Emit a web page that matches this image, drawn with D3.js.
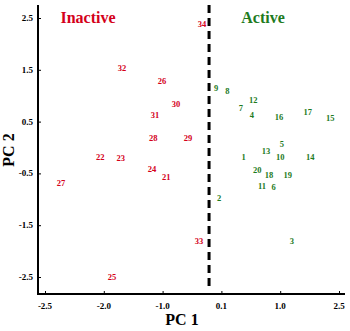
<!DOCTYPE html>
<html><head><meta charset="utf-8">
<script src="https://cdn.jsdelivr.net/npm/d3@7"></script>
<style>body{margin:0;background:#fff}svg{display:block}</style>
</head><body>
<script>
// Data
const inactiveLabels = ["21","22","23","24","25","26","27","28","29","30","31","32","33","34"];
const inactiveX = [-0.44,-1.56,-1.21,-0.68,-1.36,-0.51,-2.23,-0.66,-0.07,-0.27,-0.63,-1.19,0.12,0.17];
const inactiveY = [-0.57,-0.18,-0.20,-0.42,-2.50,1.28,-0.69,0.18,0.18,0.84,0.63,1.53,-1.81,2.38];
const activeLabels = ["1","2","3","4","5","6","7","8","9","10","11","12","13","14","15","16","17","18","19","20"];
const activeX = [0.88,0.46,1.70,1.02,1.53,1.39,0.83,0.60,0.41,1.50,1.19,1.04,1.26,2.01,2.35,1.48,1.97,1.31,1.63,1.11];
const activeY = [-0.18,-0.97,-1.81,0.63,0.07,-0.76,0.76,1.09,1.15,-0.18,-0.74,0.92,-0.07,-0.18,0.57,0.59,0.69,-0.53,-0.53,-0.43];
const xTickValues = [-2.5,-1.5,-0.5,0.5,1.5,2.5];
const xTickLabels = ["-2.5","-2.0","-1.0","0.1","1.0","2.5"];
const yTickValues = [2.5,1.5,0.5,-0.5,-1.5,-2.5];
const yTickLabels = ["2.5","1.5","0.5","-0.5","-1.5","-2.5"];
const dividerX = 0.29;

const W = 350, H = 331;
const svg = d3.select("body").append("svg").attr("width", W).attr("height", H);
const font = "'Liberation Serif','Times New Roman',serif";
const red = "#d4001a", green = "#1e7b1e";

const x = d3.scaleLinear().domain([-2.5, 2.5]).range([45, 339]);
const y = d3.scaleLinear().domain([-2.5, 2.5]).range([277, 18]);

const axisLeftX = 38, axisBottomY = 294;

// axes lines
svg.append("line").attr("x1", axisLeftX).attr("x2", axisLeftX).attr("y1", 5).attr("y2", axisBottomY + 1)
  .attr("stroke", "#000").attr("stroke-width", 2);
svg.append("line").attr("x1", axisLeftX - 1).attr("x2", 345).attr("y1", axisBottomY).attr("y2", axisBottomY)
  .attr("stroke", "#000").attr("stroke-width", 2);

// x ticks
const xa = svg.append("g").attr("transform", `translate(0,${axisBottomY})`)
  .call(d3.axisTop(x).tickValues(xTickValues).tickSize(3).tickFormat(() => ""));
xa.select(".domain").remove();
xa.selectAll(".tick line").attr("stroke", "#000").attr("stroke-width", 1);
svg.append("g").selectAll("text").data(xTickValues).join("text")
  .attr("x", d => x(d)).attr("y", axisBottomY + 15)
  .attr("text-anchor", "middle").attr("font-family", font).attr("font-weight", "bold")
  .attr("font-size", 9).text((d, i) => xTickLabels[i]);

// y ticks
const ya = svg.append("g").attr("transform", `translate(${axisLeftX},0)`)
  .call(d3.axisRight(y).tickValues(yTickValues).tickSize(3).tickFormat(() => ""));
ya.select(".domain").remove();
ya.selectAll(".tick line").attr("stroke", "#000").attr("stroke-width", 1);
svg.append("g").selectAll("text").data(yTickValues).join("text")
  .attr("x", axisLeftX - 5).attr("y", d => y(d) + 3)
  .attr("text-anchor", "end").attr("font-family", font).attr("font-weight", "bold")
  .attr("font-size", 9).text((d, i) => yTickLabels[i]);

// divider
svg.append("line").attr("x1", x(dividerX)).attr("x2", x(dividerX)).attr("y1", 5).attr("y2", 290)
  .attr("stroke", "#000").attr("stroke-width", 3).attr("stroke-dasharray", "8,5");

// axis titles
svg.append("text").attr("x", 182).attr("y", 325).attr("text-anchor", "middle")
  .attr("font-family", font).attr("font-weight", "bold").attr("font-size", 16).text("PC 1");
svg.append("text").attr("transform", "translate(14,150) rotate(-90)").attr("text-anchor", "middle")
  .attr("font-family", font).attr("font-weight", "bold").attr("font-size", 16).text("PC 2");

// group titles
svg.append("text").attr("x", 88).attr("y", 23).attr("text-anchor", "middle")
  .attr("font-family", font).attr("font-weight", "bold").attr("font-size", 16).attr("fill", red).text("Inactive");
svg.append("text").attr("x", 263).attr("y", 23).attr("text-anchor", "middle")
  .attr("font-family", font).attr("font-weight", "bold").attr("font-size", 16).attr("fill", green).text("Active");

// points as labels
function drawSet(labels, xs, ys, color) {
  svg.append("g").selectAll("text").data(labels).join("text")
    .attr("x", (d, i) => x(xs[i])).attr("y", (d, i) => y(ys[i]) + 3)
    .attr("text-anchor", "middle").attr("font-family", font).attr("font-weight", "bold")
    .attr("font-size", 8.5).attr("fill", color).text(d => d);
}
drawSet(inactiveLabels, inactiveX, inactiveY, red);
drawSet(activeLabels, activeX, activeY, green);
</script>
</body></html>
